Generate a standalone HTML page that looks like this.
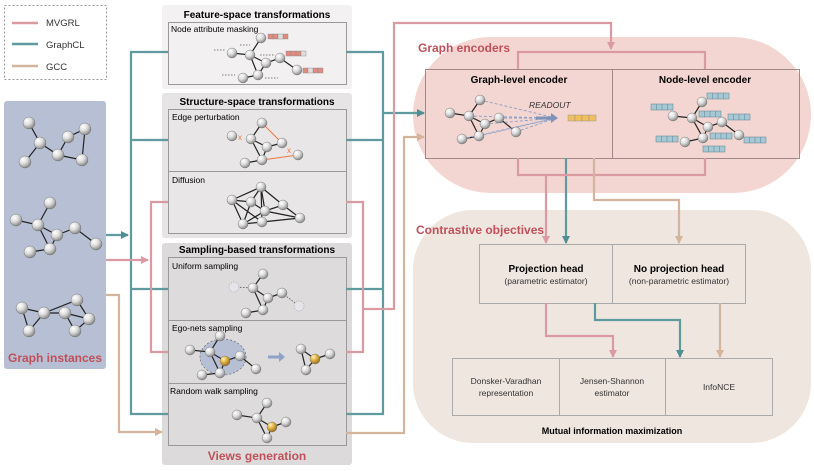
<!DOCTYPE html>
<html><head><meta charset="utf-8"><style>
html,body{margin:0;padding:0;background:#fff;}
svg{display:block;font-family:"Liberation Sans",sans-serif;}
</style></head><body>
<svg width="814" height="471" viewBox="0 0 814 471" xmlns="http://www.w3.org/2000/svg">
<defs>
<radialGradient id="g" cx="35%" cy="30%" r="70%"><stop offset="0" stop-color="#fff"/><stop offset="0.5" stop-color="#dcdcdc"/><stop offset="1" stop-color="#8a8a8a"/></radialGradient>
<radialGradient id="y" cx="35%" cy="30%" r="70%"><stop offset="0" stop-color="#fff3c0"/><stop offset="0.5" stop-color="#e0b040"/><stop offset="1" stop-color="#9a7020"/></radialGradient>
<marker id="ap" markerWidth="8" markerHeight="8" refX="7" refY="4" orient="auto" markerUnits="userSpaceOnUse"><path d="M0,0 L8,4 L0,8z" fill="#d99aa2"/></marker>
<marker id="at" markerWidth="8" markerHeight="8" refX="7" refY="4" orient="auto" markerUnits="userSpaceOnUse"><path d="M0,0 L8,4 L0,8z" fill="#4f8f94"/></marker>
<marker id="an" markerWidth="8" markerHeight="8" refX="7" refY="4" orient="auto" markerUnits="userSpaceOnUse"><path d="M0,0 L8,4 L0,8z" fill="#d4b49c"/></marker>
</defs>

<rect x="4.5" y="5.5" width="102" height="74" fill="#fff" stroke="#999" stroke-dasharray="2,2"/>
<g stroke-width="2.5"><line x1="12" y1="23" x2="38" y2="23" stroke="#d99aa2"/><line x1="12" y1="44" x2="38" y2="44" stroke="#5e9a9e"/><line x1="12" y1="66" x2="38" y2="66" stroke="#d4b49c"/></g>
<g font-size="9.5" fill="#333"><text x="46" y="26">MVGRL</text><text x="46" y="48">GraphCL</text><text x="46" y="70">GCC</text></g>

<rect x="413" y="37" width="398" height="156" rx="78" fill="#f3d6d2"/>
<rect x="413" y="210" width="398" height="233" rx="60" fill="#efe6e0"/>
<text x="418" y="52" font-size="12" fill="#c0505a" font-weight="bold">Graph encoders</text>
<text x="416" y="234" font-size="12" fill="#c0505a" font-weight="bold">Contrastive objectives</text>

<rect x="4" y="101" width="102" height="268" rx="3" fill="#b6bfd3"/>
<text x="55" y="362" font-size="12" font-weight="bold" fill="#c0505a" text-anchor="middle">Graph instances</text>

<rect x="162" y="5" width="190" height="84" rx="3" fill="#f3f1f1"/>
<text x="257" y="18" font-size="10" font-weight="bold" text-anchor="middle">Feature-space transformations</text>
<rect x="168.5" y="22.5" width="178" height="62" fill="#f2f0f0" stroke="#999"/>
<text x="171" y="32" font-size="8.5">Node attribute masking</text>

<rect x="162" y="93" width="190" height="145" rx="3" fill="#e6e4e4"/>
<text x="257" y="105" font-size="10" font-weight="bold" text-anchor="middle">Structure-space transformations</text>
<rect x="168.5" y="109.5" width="178" height="62" fill="#e8e6e6" stroke="#999"/>
<rect x="168.5" y="171.5" width="178" height="62" fill="#e8e6e6" stroke="#999"/>
<text x="172" y="120" font-size="8.5">Edge perturbation</text>
<text x="172" y="183" font-size="8.5">Diffusion</text>

<rect x="162" y="243" width="190" height="222" rx="3" fill="#dcdada"/>
<text x="257" y="253" font-size="10" font-weight="bold" text-anchor="middle">Sampling-based transformations</text>
<rect x="168.5" y="257.5" width="178" height="63" fill="#dddbdb" stroke="#999"/>
<rect x="168.5" y="320.5" width="178" height="63" fill="#dddbdb" stroke="#999"/>
<rect x="168.5" y="383.5" width="178" height="62" fill="#dddbdb" stroke="#999"/>
<text x="172" y="269" font-size="8.5">Uniform sampling</text>
<text x="172" y="331" font-size="8.5">Ego-nets sampling</text>
<text x="170" y="394" font-size="8.5">Random walk sampling</text>
<text x="257" y="460" font-size="12" font-weight="bold" fill="#c0505a" text-anchor="middle">Views generation</text>

<rect x="425.5" y="69.5" width="374" height="89" fill="none" stroke="#a08888"/>
<line x1="612.5" y1="69" x2="612.5" y2="158" stroke="#a08888"/>
<text x="519" y="83" font-size="10" font-weight="bold" text-anchor="middle">Graph-level encoder</text>
<text x="705" y="83" font-size="10" font-weight="bold" text-anchor="middle">Node-level encoder</text>

<rect x="479.5" y="244.5" width="266" height="59" fill="none" stroke="#aaa"/>
<line x1="612.5" y1="244" x2="612.5" y2="303" stroke="#aaa"/>
<text x="546" y="272" font-size="10" font-weight="bold" text-anchor="middle">Projection head</text>
<text x="546" y="284" font-size="8.5" fill="#333" text-anchor="middle">(parametric estimator)</text>
<text x="679" y="272" font-size="10" font-weight="bold" text-anchor="middle">No projection head</text>
<text x="679" y="284" font-size="8.5" fill="#333" text-anchor="middle">(non-parametric estimator)</text>

<rect x="452.5" y="358.5" width="320" height="57" fill="none" stroke="#aaa"/>
<line x1="559.5" y1="358" x2="559.5" y2="415" stroke="#aaa"/>
<line x1="665.5" y1="358" x2="665.5" y2="415" stroke="#aaa"/>
<g font-size="8.5" fill="#333" text-anchor="middle">
<text x="506" y="384">Donsker-Varadhan</text><text x="506" y="396">representation</text>
<text x="612" y="384">Jensen-Shannon</text><text x="612" y="396">estimator</text>
<text x="719" y="390">InfoNCE</text></g>
<text x="612" y="434" font-size="9" font-weight="bold" text-anchor="middle">Mutual  information maximization</text>

<g fill="none" stroke-width="2.2">
<g stroke="#5e9a9e">
<path d="M106,235 H128" marker-end="url(#at)"/>
<path d="M168,52 H131 V414 H168 M131,140 H168 M131,289 H168"/>
<path d="M346,52 H383 V414 H346 M346,140 H383 M346,289 H383"/>
<path d="M383,113 H424" marker-end="url(#at)"/>
<path d="M566,158 V243" marker-end="url(#at)"/>
<path d="M595,303 V320 H680 V357" marker-end="url(#at)"/>
</g>
<g stroke="#d99aa2">
<path d="M106,260 H148" marker-end="url(#ap)"/>
<path d="M168,202 H151 V352 H168"/>
<path d="M346,202 H363 V352 H346 M363,309 H394 V23 H611 V49" marker-end="url(#ap)"/>
<path d="M518,69 V52 H705 V69"/>
<path d="M518,158 V175 H705 V158"/>
<path d="M546,175 V243" marker-end="url(#ap)"/>
<path d="M546,303 V336 H613 V357" marker-end="url(#ap)"/>
</g>
<g stroke="#d4b49c">
<path d="M106,295 H119 V432 H162" marker-end="url(#an)"/>
<path d="M346,433 H404 V137 H424" marker-end="url(#an)"/>
<path d="M594,158 V200 H679 V243" marker-end="url(#an)"/>
<path d="M720,303 V357" marker-end="url(#an)"/>
</g>
</g>

<g stroke="#222" stroke-width="1.2" fill="none">
<path d="M29,123 L40,143 L25,162 M40,143 L58,155 L68,137 L85,129 L82,160 L58,155"/>
<path d="M50,203 L38,225 L16,220 M38,225 L57,235 L75,228 L96,244 M38,225 L50,249 L30,252 M57,235 L50,249"/>
<path d="M22,308 L44,313 L77,300 L89,319 L75,331 L65,313 L44,313 M22,308 L29,331 L44,313 M65,313 L89,319"/>
<path d="M232,53 L250,55 L261,38 M250,55 L266,63 L280,58 L297,70 M250,55 L258,75 L243,78 M266,63 L258,75"/>
<path d="M251,139 L262,123 M251,139 L267,147 L282,143 M251,139 L262,160 L245,163 M267,147 L262,160"/>
<path d="M232,200 L261,187 L283,205 L300,218 L262,222 L243,224 L232,200 L251,202 L261,187 L265,211 L283,205 M251,202 L265,211 L300,218 M251,202 L243,224 M261,187 L262,222 M265,211 L243,224 M232,200 L262,222"/>
<path d="M253,288 L263,274 M253,288 L268,298 L282,293 M253,288 L263,310 L246,313 M268,298 L263,310"/>
<path d="M301,349 L315,359 L330,354 M301,349 L306,370 L315,359"/>
<path d="M237,415 L257,418 L267,403 M257,418 L272,427 L286,422 M257,418 L267,438 L272,427"/>
<path d="M450,113 L469,116 L480,100 M469,116 L485,124 L499,118 L516,132 M469,116 L479,136 L462,139 M485,124 L479,136"/>
<path d="M673,116 L692,118 L702,102 M692,118 L708,127 L722,122 L739,135 M692,118 L703,138 L685,142 M708,127 L703,138"/>
</g>
<g stroke="#f07840" stroke-width="1"><path d="M262,123 L282,143 M262,160 L298,155"/></g>
<g font-size="8" fill="#f07840"><text x="238" y="140">x</text><text x="287" y="153">x</text></g>
<g stroke="#555" stroke-width="0.8" stroke-dasharray="1.5,1.5"><path d="M234,287 L253,288 M282,293 L299,306 M260,55 H275 M265,78 H278 M240,45 H250 M214,50 H225 M222,75 H235"/></g>
<g stroke="#8aa0c8" stroke-width="0.9" stroke-dasharray="3,2"><path d="M480,100 L556,118 M469,116 L556,118 M485,124 L556,118 M499,118 L556,118 M479,136 L556,118 M462,139 L556,118 M516,132 L556,118"/></g>
<ellipse cx="223" cy="357" rx="23" ry="18" fill="#b6bfd3" stroke="#667" stroke-width="0.7" stroke-dasharray="2,2"/>
<path d="M190,350 L210,352 L220,336 M210,352 L225,361 L240,356 L256,369 M210,352 L220,373 L202,375 M225,361 L220,373" stroke="#222" stroke-width="1.2" fill="none"/>
<path d="M268,357 H280" stroke="#8ea2c8" stroke-width="3"/><path d="M279,352 L285,357 L279,362z" fill="#8ea2c8"/>
<path d="M536,118 H552" stroke="#7f93bb" stroke-width="3"/><path d="M551,113 L558,118 L551,123z" fill="#7f93bb"/>
<text x="529" y="108" font-size="8.5" font-style="italic" fill="#333">READOUT</text>

<g fill="url(#g)" stroke="#666" stroke-width="0.4">
<circle cx="29" cy="123" r="6"/><circle cx="40" cy="143" r="6"/><circle cx="25" cy="162" r="6"/><circle cx="58" cy="155" r="6"/><circle cx="68" cy="137" r="6"/><circle cx="85" cy="129" r="6"/><circle cx="82" cy="160" r="6"/>
<circle cx="50" cy="203" r="6"/><circle cx="16" cy="220" r="6"/><circle cx="38" cy="225" r="6"/><circle cx="57" cy="235" r="6"/><circle cx="75" cy="228" r="6"/><circle cx="96" cy="244" r="6"/><circle cx="50" cy="249" r="6"/><circle cx="30" cy="252" r="6"/>
<circle cx="22" cy="308" r="6"/><circle cx="44" cy="313" r="6"/><circle cx="77" cy="300" r="6"/><circle cx="65" cy="313" r="6"/><circle cx="89" cy="319" r="6"/><circle cx="29" cy="331" r="6"/><circle cx="75" cy="331" r="6"/>
<circle cx="232" cy="53" r="5"/><circle cx="250" cy="55" r="5"/><circle cx="261" cy="38" r="5"/><circle cx="266" cy="63" r="5"/><circle cx="280" cy="58" r="5"/><circle cx="297" cy="70" r="5"/><circle cx="258" cy="75" r="5"/><circle cx="243" cy="78" r="5"/>
<circle cx="232" cy="136" r="5"/><circle cx="251" cy="139" r="5"/><circle cx="262" cy="123" r="5"/><circle cx="267" cy="147" r="5"/><circle cx="282" cy="143" r="5"/><circle cx="298" cy="155" r="5"/><circle cx="262" cy="160" r="5"/><circle cx="245" cy="163" r="5"/>
<circle cx="232" cy="200" r="5"/><circle cx="251" cy="202" r="5"/><circle cx="261" cy="187" r="5"/><circle cx="265" cy="211" r="5"/><circle cx="283" cy="205" r="5"/><circle cx="300" cy="218" r="5"/><circle cx="243" cy="224" r="5"/><circle cx="262" cy="222" r="5"/>
<circle cx="253" cy="288" r="5"/><circle cx="263" cy="274" r="5"/><circle cx="268" cy="298" r="5"/><circle cx="282" cy="293" r="5"/><circle cx="263" cy="310" r="5"/><circle cx="246" cy="313" r="5"/>
<circle cx="190" cy="350" r="5"/><circle cx="210" cy="352" r="5"/><circle cx="220" cy="336" r="5"/><circle cx="240" cy="356" r="5"/><circle cx="256" cy="369" r="5"/><circle cx="220" cy="373" r="5"/><circle cx="202" cy="375" r="5"/>
<circle cx="301" cy="349" r="5"/><circle cx="330" cy="354" r="5"/><circle cx="306" cy="370" r="5"/>
<circle cx="237" cy="415" r="5"/><circle cx="257" cy="418" r="5"/><circle cx="267" cy="403" r="5"/><circle cx="286" cy="422" r="5"/><circle cx="267" cy="438" r="5"/>
<circle cx="450" cy="113" r="5"/><circle cx="469" cy="116" r="5"/><circle cx="480" cy="100" r="5"/><circle cx="485" cy="124" r="5"/><circle cx="499" cy="118" r="5"/><circle cx="516" cy="132" r="5"/><circle cx="479" cy="136" r="5"/><circle cx="462" cy="139" r="5"/>
<circle cx="673" cy="116" r="5"/><circle cx="692" cy="118" r="5"/><circle cx="702" cy="102" r="5"/><circle cx="708" cy="127" r="5"/><circle cx="722" cy="122" r="5"/><circle cx="739" cy="135" r="5"/><circle cx="703" cy="138" r="5"/><circle cx="685" cy="142" r="5"/>
</g>
<g fill="#e4e4ea" stroke="#aaa" stroke-width="0.6" stroke-dasharray="1.5,1"><circle cx="234" cy="287" r="5"/><circle cx="299" cy="306" r="5"/></g>
<g fill="url(#y)" stroke="#666" stroke-width="0.4"><circle cx="225" cy="361" r="5"/><circle cx="315" cy="359" r="5"/><circle cx="272" cy="427" r="5"/></g>

<g stroke="#888" stroke-width="0.4">
<g fill="#e08a80"><rect x="268" y="34" width="5" height="5"/><rect x="273" y="34" width="5" height="5"/><rect x="283" y="34" width="5" height="5"/>
<rect x="286" y="51" width="5" height="5"/><rect x="291" y="51" width="5" height="5"/><rect x="296" y="51" width="5" height="5"/>
<rect x="303" y="68" width="5" height="5"/><rect x="313" y="68" width="5" height="5"/><rect x="318" y="68" width="5" height="5"/></g>
<g fill="#ddd"><rect x="278" y="34" width="5" height="5"/><rect x="301" y="51" width="5" height="5"/><rect x="308" y="68" width="5" height="5"/></g>
<g fill="#f0c060"><rect x="568" y="115" width="7" height="6"/><rect x="575" y="115" width="7" height="6"/><rect x="582" y="115" width="7" height="6"/><rect x="589" y="115" width="7" height="6"/></g>
</g>
<g fill="#a6c8d4" stroke="#5a7f8c" stroke-width="0.5">
<rect x="707" y="93" width="22" height="6"/><rect x="651" y="104" width="22" height="6"/><rect x="699" y="111" width="22" height="6"/><rect x="728" y="114" width="22" height="6"/>
<rect x="656" y="136" width="22" height="6"/><rect x="710" y="133" width="22" height="6"/><rect x="744" y="137" width="22" height="6"/><rect x="703" y="146" width="22" height="6"/>
</g>
<g stroke="#5a7f8c" stroke-width="0.5">
<path d="M712.5,93 v6 M718,93 v6 M723.5,93 v6 M656.5,104 v6 M662,104 v6 M667.5,104 v6 M704.5,111 v6 M710,111 v6 M715.5,111 v6 M733.5,114 v6 M739,114 v6 M744.5,114 v6 M661.5,136 v6 M667,136 v6 M672.5,136 v6 M715.5,133 v6 M721,133 v6 M726.5,133 v6 M749.5,137 v6 M755,137 v6 M760.5,137 v6 M708.5,146 v6 M714,146 v6 M719.5,146 v6"/>
</g>
</svg>
</body></html>
